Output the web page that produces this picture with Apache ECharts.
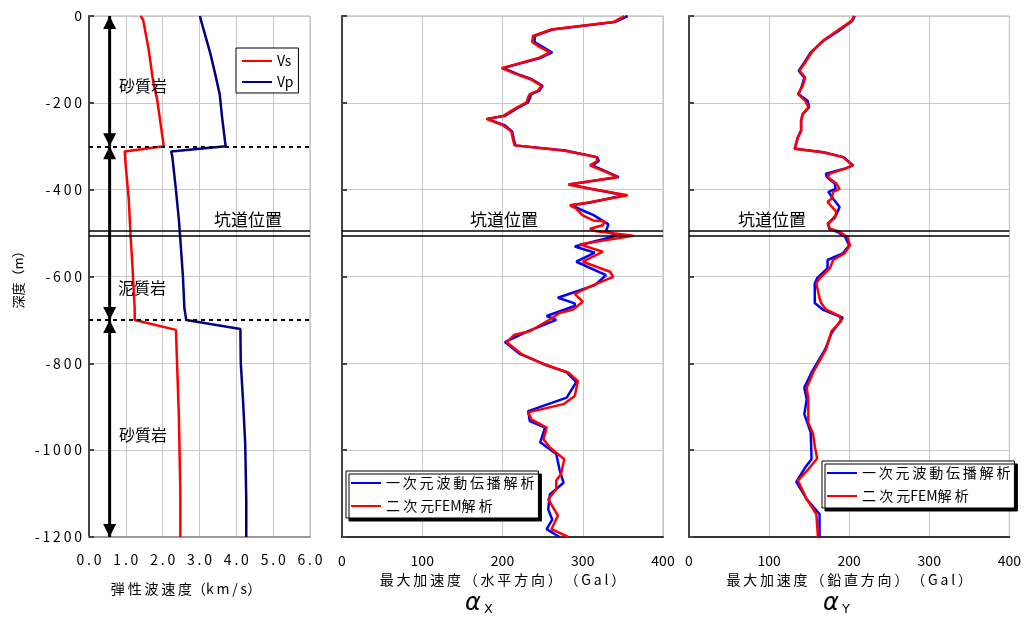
<!DOCTYPE html>
<html><head><meta charset="utf-8">
<script src="https://cdn.jsdelivr.net/npm/echarts@6/dist/echarts.min.js"></script>
<style>html,body{margin:0;padding:0;background:#fff}#c{width:1024px;height:617px}</style>
</head><body><div id="c"></div>
<script>
// ---- Data ----
const vsDep = [0, -9, -77, -150, -192, -246, -300, -312, -338, -423, -508, -577, -673, -700, -723, -798, -921, -1098, -1200];
const vsVel = [1.40, 1.47, 1.62, 1.74, 1.85, 1.94, 2.03, 0.97, 0.99, 1.08, 1.13, 1.18, 1.24, 1.24, 2.36, 2.39, 2.44, 2.48, 2.48];
const vpDep = [0, -31, -85, -135, -181, -231, -300, -312, -323, -392, -469, -515, -600, -673, -700, -721, -798, -883, -983, -1114, -1200];
const vpVel = [3.01, 3.11, 3.29, 3.43, 3.55, 3.61, 3.71, 2.23, 2.26, 2.35, 2.44, 2.48, 2.55, 2.59, 2.64, 4.11, 4.12, 4.18, 4.24, 4.27, 4.27];

const axFemDep = [0, -14, -31, -46, -60, -70, -84, -96, -120, -134, -145, -161, -172, -180, -187, -199, -214, -230, -237, -252, -266, -283, -298, -310, -325, -334, -344, -371, -388, -398, -413, -430, -436, -444, -459, -471, -473, -482, -490, -495, -506, -526, -543, -566, -589, -601, -620, -640, -658, -676, -684, -699, -726, -734, -751, -779, -802, -821, -841, -875, -894, -913, -929, -948, -975, -994, -1021, -1055, -1070, -1090, -1113, -1151, -1182, -1200];
const axFemVal = [352, 338, 261, 238, 237, 245, 259, 246, 199, 217, 234, 249, 244, 234, 232, 230, 215, 201, 180, 201, 211, 213, 215, 276, 317, 318, 309, 344, 282, 309, 356, 305, 284, 292, 300, 313, 327, 325, 309, 315, 363, 296, 325, 300, 334, 338, 313, 290, 300, 288, 271, 259, 234, 215, 205, 224, 251, 282, 294, 290, 276, 232, 236, 255, 251, 259, 277, 273, 267, 267, 257, 269, 261, 282];
const ax1dDep = [0, -14, -31, -46, -60, -84, -96, -120, -134, -145, -161, -172, -180, -199, -214, -230, -237, -252, -266, -283, -298, -310, -325, -334, -344, -371, -388, -398, -413, -430, -436, -448, -458, -480, -495, -506, -531, -545, -566, -597, -620, -649, -662, -668, -691, -700, -726, -751, -779, -802, -821, -843, -879, -910, -933, -948, -982, -1009, -1044, -1075, -1102, -1136, -1160, -1182, -1200];
const ax1dVal = [356, 340, 262, 240, 240, 262, 248, 201, 219, 236, 250, 246, 236, 232, 217, 203, 181, 203, 212, 214, 216, 278, 318, 320, 312, 345, 283, 310, 352, 308, 286, 300, 313, 332, 329, 342, 290, 315, 292, 329, 315, 269, 290, 290, 255, 267, 232, 203, 222, 252, 280, 292, 280, 232, 234, 253, 247, 267, 271, 276, 259, 257, 262, 255, 271];

const ayFemDep = [0, -11, -34, -57, -84, -107, -126, -142, -161, -180, -195, -210, -226, -241, -264, -279, -306, -314, -325, -344, -352, -363, -371, -386, -398, -405, -421, -428, -451, -466, -478, -490, -497, -509, -528, -547, -562, -581, -604, -616, -650, -661, -676, -691, -703, -726, -768, -821, -856, -883, -936, -963, -990, -1019, -1044, -1070, -1113, -1147, -1200];
const ayFemVal = [206, 203, 185, 167, 153, 145, 138, 145, 142, 136, 145, 149, 142, 140, 140, 136, 132, 167, 192, 204, 194, 176, 173, 184, 188, 180, 178, 173, 184, 182, 173, 176, 188, 198, 201, 194, 180, 176, 163, 159, 163, 165, 171, 188, 190, 178, 171, 155, 147, 149, 149, 155, 157, 160, 149, 136, 147, 159, 161];
const ay1dDep = [0, -11, -34, -57, -84, -107, -126, -142, -161, -180, -195, -210, -226, -241, -264, -279, -306, -314, -325, -344, -352, -363, -371, -386, -398, -405, -421, -440, -458, -478, -490, -497, -509, -528, -547, -562, -581, -604, -616, -650, -661, -676, -695, -730, -768, -821, -856, -883, -917, -959, -1021, -1040, -1073, -1113, -1147, -1200];
const ay1dVal = [207, 204, 187, 168, 152, 144, 137, 144, 141, 137, 148, 150, 142, 140, 140, 136, 132, 168, 193, 205, 194, 171, 172, 182, 183, 174, 180, 188, 184, 174, 175, 185, 195, 200, 192, 173, 173, 160, 157, 157, 157, 167, 192, 178, 170, 153, 144, 147, 144, 152, 153, 145, 134, 147, 163, 163];

const layerBounds = [0, -300, -700, -1200];
const layerNames = ['砂質岩', '泥質岩', '砂質岩'];
const tunnelDepths = [-494, -506];
const arrowVel = 0.56;
const names = { vs: 'Vs', vp: 'Vp', d1: '一次元波動伝播解析', fem: '二次元FEM解析' };

// ---- Helpers ----
const FONT = "'Noto Sans CJK JP', 'Noto Sans', sans-serif";
const sp = s => Array.from(String(s)).join('\u2009');
const zip = (v, d) => v.map((x, i) => [x, d[i]]);

const chart = echarts.init(document.getElementById('c'), null, { renderer: 'canvas' });

const grids = [
  { left: 89, top: 16, width: 221, height: 521 },
  { left: 342, top: 16, width: 321, height: 521 },
  { left: 689, top: 16, width: 321, height: 521 }
].map(g => Object.assign(g, { show: true, borderColor: '#b0b0b0', borderWidth: 1, backgroundColor: 'transparent' }));

const gridLine = { show: true, lineStyle: { color: '#c8c8c8', width: 1 } };

const yAxes = [0, 1, 2].map(i => ({
  type: 'value', gridIndex: i, min: -1200, max: 0, interval: 200,
  axisLine: { show: true, onZero: false, lineStyle: { color: '#444', width: 2 } },
  axisTick: { show: true, inside: true, length: 5, lineStyle: { color: '#444', width: 2 } },
  axisLabel: i === 0 ? { show: true, margin: 7, color: '#000', fontSize: 14, fontFamily: FONT, formatter: v => v === 0 ? '0' : sp(v) } : { show: false },
  splitLine: gridLine,
  name: i === 0 ? '深度（m）' : '',
  nameLocation: 'middle', nameGap: 64,
  nameTextStyle: { color: '#000', fontSize: 13, fontFamily: FONT }
}));

const xAxes = [
  { type: 'value', gridIndex: 0, min: 0, max: 6, interval: 1,
    axisLine: { show: true, onZero: false, lineStyle: { color: '#999', width: 2 } },
    axisTick: { show: false },
    axisLabel: { margin: 16, color: '#000', fontSize: 14, fontFamily: FONT, formatter: v => sp(v.toFixed(1)) },
    splitLine: gridLine,
    name: sp('弾性波速度') + '（' + sp('km/s') + '）', nameLocation: 'middle', nameGap: 45,
    nameTextStyle: { color: '#000', fontSize: 14, fontFamily: FONT, padding: [0, 27, 0, 0] } },
  { type: 'value', gridIndex: 1, min: 0, max: 400, interval: 100,
    axisLine: { show: true, onZero: false, lineStyle: { color: '#333', width: 2 } },
    axisTick: { show: false },
    axisLabel: { margin: 17, color: '#000', fontSize: 14, fontFamily: FONT },
    splitLine: gridLine,
    name: sp('最大加速度（水平方向）（Gal）'), nameLocation: 'middle', nameGap: 36,
    nameTextStyle: { color: '#000', fontSize: 14, fontFamily: FONT } },
  { type: 'value', gridIndex: 2, min: 0, max: 400, interval: 100,
    axisLine: { show: true, onZero: false, lineStyle: { color: '#333', width: 2 } },
    axisTick: { show: false },
    axisLabel: { margin: 17, color: '#000', fontSize: 14, fontFamily: FONT },
    splitLine: gridLine,
    name: sp('最大加速度（鉛直方向）（Gal）'), nameLocation: 'middle', nameGap: 36,
    nameTextStyle: { color: '#000', fontSize: 14, fontFamily: FONT } }
];

const tunnelMark = {
  silent: true, symbol: ['none', 'none'], label: { show: false }, animation: false,
  lineStyle: { color: '#000', width: 1.5, type: 'solid' },
  data: tunnelDepths.map(d => ({ yAxis: d }))
};

const lineSeries = (name, color, data, xi, extra) => Object.assign({
  name, type: 'line', xAxisIndex: xi, yAxisIndex: xi, data,
  symbol: 'none', showSymbol: false, z: 3,
  lineStyle: { color, width: 2.5 }, itemStyle: { color }
}, extra || {});

const arrowSeries = [];
for (let i = 0; i < layerBounds.length - 1; i++) {
  arrowSeries.push({
    type: 'line', xAxisIndex: 0, yAxisIndex: 0, z: 4, silent: true,
    symbol: 'triangle', symbolSize: [13, 13], showSymbol: true, showAllSymbol: true,
    lineStyle: { color: '#000', width: 3 }, itemStyle: { color: '#000' },
    data: [
      { value: [arrowVel, layerBounds[i]], symbolRotate: 0, symbolOffset: [0, 6.5] },
      { value: [arrowVel, layerBounds[i + 1]], symbolRotate: 180, symbolOffset: [0, -6.5] }
    ]
  });
}

const series = [
  lineSeries(names.vs, '#ff0000', zip(vsVel, vsDep), 0, {
    markLine: {
      silent: true, symbol: ['none', 'none'], label: { show: false }, animation: false,
      lineStyle: { color: '#000', width: 2, type: [4, 4] },
      data: [{ yAxis: layerBounds[1] }, { yAxis: layerBounds[2] }]
    }
  }),
  lineSeries(names.vp, '#000080', zip(vpVel, vpDep), 0, { markLine: tunnelMark }),
  ...arrowSeries,
  lineSeries(names.d1, '#0000ff', zip(ax1dVal, ax1dDep), 1, { markLine: tunnelMark }),
  lineSeries(names.fem, '#ff0000', zip(axFemVal, axFemDep), 1),
  lineSeries(names.d1, '#0000ff', zip(ay1dVal, ay1dDep), 2, { markLine: tunnelMark }),
  lineSeries(names.fem, '#ff0000', zip(ayFemVal, ayFemDep), 2)
];

const legendBase = {
  orient: 'vertical', itemWidth: 30, itemHeight: 14, itemGap: 9,
  backgroundColor: '#fff', borderColor: '#000', borderWidth: 1,
  padding: [5, 4, 5, 4], selectedMode: false,
  itemStyle: { color: 'transparent', borderColor: 'transparent', borderWidth: 0, opacity: 0 },
  textStyle: { color: '#000', fontSize: 14, fontFamily: FONT }
};

const legends = [
  Object.assign({}, legendBase, { left: 236, top: 48, itemGap: 7, padding: [6, 5, 4, 5], data: [names.vs, names.vp] }),
  Object.assign({}, legendBase, { left: 346, top: 471, data: [names.d1, names.fem], formatter: n => n === names.d1 ? sp(n) : '二 次 元FEM解 析',
    shadowColor: '#000', shadowBlur: 0, shadowOffsetX: 3, shadowOffsetY: 3 }),
  Object.assign({}, legendBase, { left: 822, top: 461, data: [names.d1, names.fem], formatter: n => n === names.d1 ? sp(n) : '二 次 元FEM解 析',
    shadowColor: '#000', shadowBlur: 0, shadowOffsetX: 3, shadowOffsetY: 3 })
];

const txt = (text, x, y, size, extra) => ({
  type: 'text', x, y, silent: true, z: 10,
  style: Object.assign({ text, fill: '#000', font: size + 'px ' + FONT, align: 'center', verticalAlign: 'middle' }, extra || {})
});

const graphic = [
  txt(layerNames[0], 143, 86, 16),
  txt(layerNames[1], 142, 288, 16),
  txt(layerNames[2], 143, 435, 16),
  txt('坑道位置', 248, 220, 17),
  txt('坑道位置', 504, 220, 17),
  txt('坑道位置', 772, 220, 17),
  txt('α', 465, 604, 24, { align: 'left', font: 'italic 24px DejaVu Sans, sans-serif' }),
  txt('X', 484, 610, 13, { align: 'left', font: '13px DejaVu Sans, sans-serif' }),
  txt('α', 823, 604, 24, { align: 'left', font: 'italic 24px DejaVu Sans, sans-serif' }),
  txt('Y', 842, 610, 13, { align: 'left', font: '13px DejaVu Sans, sans-serif' })
];

chart.setOption({
  animation: false,
  backgroundColor: '#fff',
  grid: grids,
  xAxis: xAxes,
  yAxis: yAxes,
  legend: legends,
  series,
  graphic
});
</script>
</body></html>
